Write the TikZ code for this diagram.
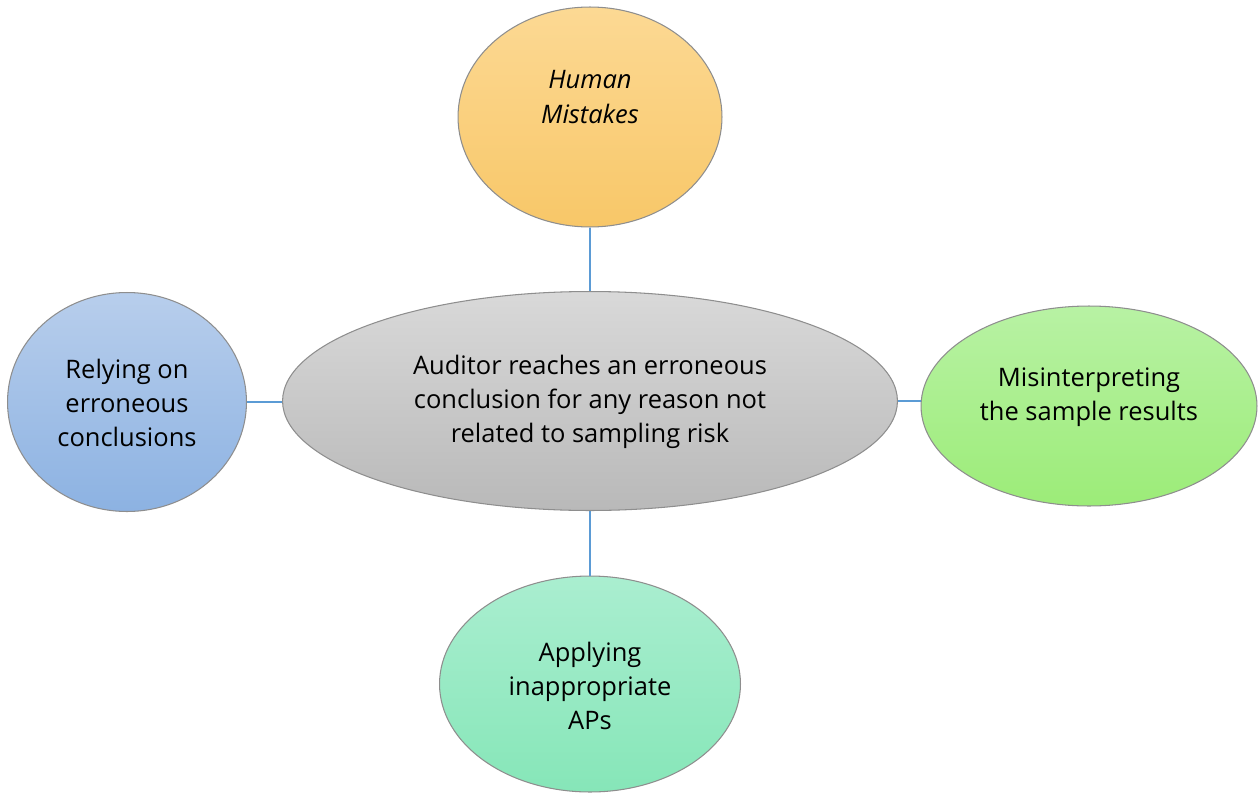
\documentclass[tikz,border=0pt]{standalone}
\usepackage{fontspec}
\setmainfont{Open Sans}
\usetikzlibrary{shapes.geometric}
\definecolor{linkblue}{HTML}{5B9BD5}
\definecolor{rimgray}{HTML}{8E8E8E}
\begin{document}
\begin{tikzpicture}[x=0.02cm,y=-0.02cm,
  bubble/.style={ellipse, draw=rimgray, line width=0.6pt, inner sep=0pt},
  caption/.style={align=center, font=\fontsize{14.5}{19.5}\selectfont, text=black},
  link/.style={draw=linkblue, line width=1.1pt}]
  \useasboundingbox (0,0) rectangle (1260,794);

  % central idea
  \node[bubble, minimum width=12.3cm, minimum height=4.38cm,
        top color=gray!30, bottom color=gray!55] (core) at (590,401) {};
  \node[caption] (coretext) at (590,402)
    {Auditor reaches an erroneous\\conclusion for any reason not\\related to sampling risk};

  % surrounding causes
  \node[bubble, minimum width=5.28cm, minimum height=4.40cm,
        top color={rgb,255:red,252;green,217;blue,148}, bottom color={rgb,255:red,248;green,199;blue,104}] (human) at (590,117) {};
  \node[caption, font=\fontsize{14.5}{19.5}\selectfont\itshape] (humantext) at (590,97) {Human\\Mistakes};

  \node[bubble, minimum width=4.78cm, minimum height=4.38cm,
        top color={rgb,255:red,184;green,206;blue,236}, bottom color={rgb,255:red,140;green,178;blue,226}] (rely) at (127,402) {};
  \node[caption] (relytext) at (127,403) {Relying on\\erroneous\\conclusions};

  \node[bubble, minimum width=6.72cm, minimum height=4.0cm,
        top color={rgb,255:red,184;green,242;blue,164}, bottom color={rgb,255:red,156;green,236;blue,120}] (misread) at (1089,406) {};
  \node[caption] (misreadtext) at (1089,397) {Misinterpreting\\the sample results};

  \node[bubble, minimum width=6.02cm, minimum height=4.32cm,
        top color={rgb,255:red,170;green,238;blue,208}, bottom color={rgb,255:red,134;green,230;blue,184}] (apply) at (590,684) {};
  \node[caption] (applytext) at (590,686) {Applying\\inappropriate\\APs};

  % connectors
  \draw[link] (human.south) -- (core.north);
  \draw[link] (rely.east) -- (rely.east -| core.west);
  \draw[link] (core.east) -- (core.east -| misread.west);
  \draw[link] (core.south) -- (apply.north);
\end{tikzpicture}
\end{document}
